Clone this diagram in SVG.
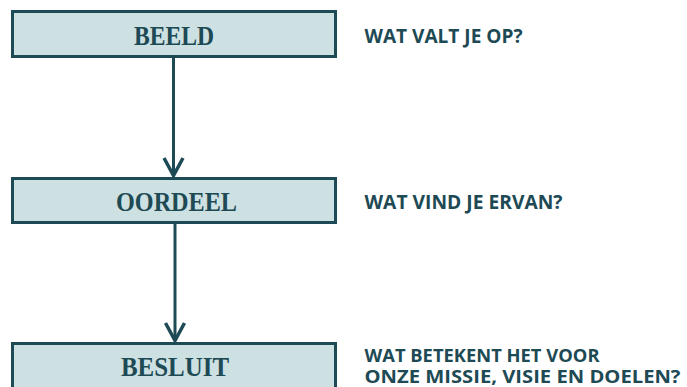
<svg xmlns="http://www.w3.org/2000/svg" width="687" height="387" viewBox="0 0 687 387">
<style>
.box{fill:#cde0e2;stroke:#1d4a54;stroke-width:3}
.lbl{font-family:"Liberation Serif","DejaVu Serif",serif;font-weight:bold;font-size:27px;fill:#1d4a54;text-anchor:middle}
.q{font-family:"Open Sans","Liberation Sans",sans-serif;font-weight:bold;font-size:19.5px;fill:#1d4a54}
.q3{font-size:18.5px}
.conn{stroke:#1d4a54;stroke-width:3;fill:none}
.head{stroke:#1d4a54;stroke-width:3.5;fill:none;stroke-linejoin:miter}
</style>
<rect width="687" height="387" fill="#ffffff"/>
<g id="connectors">
<path class="conn" d="M173.5,57 V175"/>
<polyline class="head" points="164,158 173.5,175.5 183,158"/>
<path class="conn" d="M175,222.5 V340.5"/>
<polyline class="head" points="165.5,323 175,340.5 184.5,323"/>
</g>
<g id="beeld">
<rect class="box" x="12.5" y="11.5" width="323" height="45"/>
<text class="lbl" x="174" y="45" textLength="80" lengthAdjust="spacingAndGlyphs">BEELD</text>
</g>
<g id="oordeel">
<rect class="box" x="12.5" y="178.5" width="323" height="44"/>
<text class="lbl" x="176.5" y="211" textLength="121" lengthAdjust="spacingAndGlyphs">OORDEEL</text>
</g>
<g id="besluit">
<rect class="box" x="12.5" y="343.5" width="323" height="46"/>
<text class="lbl" x="175" y="376" textLength="108" lengthAdjust="spacingAndGlyphs">BESLUIT</text>
</g>
<g id="q1">
<text class="q" x="364.5" y="42.5" textLength="158" lengthAdjust="spacingAndGlyphs">WAT VALT JE OP?</text>
</g>
<g id="q2">
<text class="q" x="364.5" y="208.5" textLength="198" lengthAdjust="spacingAndGlyphs">WAT VIND JE ERVAN?</text>
</g>
<g id="q3">
<text class="q q3" x="364.5" y="361.5" textLength="235" lengthAdjust="spacingAndGlyphs">WAT BETEKENT HET VOOR</text>
<text class="q q3" x="364.5" y="383" textLength="316" lengthAdjust="spacingAndGlyphs">ONZE MISSIE, VISIE EN DOELEN?</text>
</g>
</svg>
